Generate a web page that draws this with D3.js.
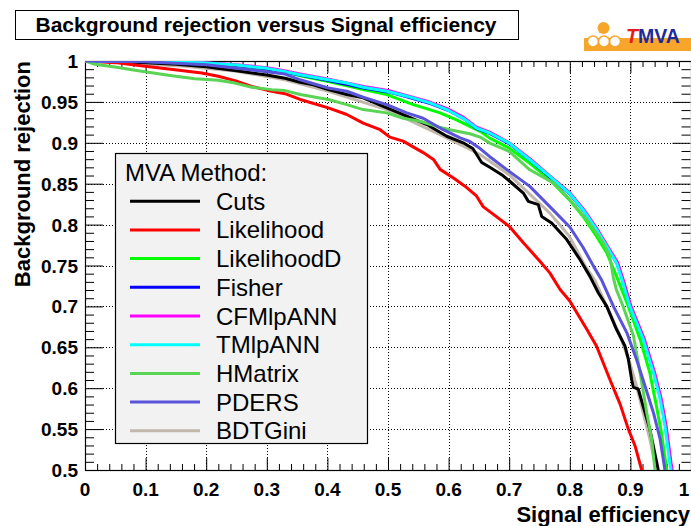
<!DOCTYPE html>
<html><head><meta charset="utf-8">
<script src="https://cdn.jsdelivr.net/npm/d3@7"></script>
<style>
body{margin:0;background:#fff}
svg{display:block}
text{font-family:"Liberation Sans",Arial,Helvetica,sans-serif}
</style>
</head><body>
<svg id="chart" width="691" height="526"></svg>
<script>
// ---- data ----
const methods = ["Cuts","Likelihood","LikelihoodD","Fisher","CFMlpANN","TMlpANN","HMatrix","PDERS","BDTGini"];
const colors  = ["#000000","#ff0000","#00ff00","#0000ff","#ff00ff","#00ffff","#59d454","#5954d9","#c2b7ab"];

const cuts = [[0,1],[0.05,0.9995],[0.1,0.998],[0.15,0.996],[0.2,0.993],[0.25,0.988],[0.3,0.983],[0.33,0.979],[0.355,0.974],[0.377,0.971],[0.4015,0.965],[0.432,0.959],[0.459,0.955],[0.498,0.9427],[0.531,0.9326],[0.564,0.9223],[0.597,0.908],[0.624,0.9],[0.64,0.893],[0.6546,0.876],[0.668,0.87],[0.6876,0.861],[0.701,0.853],[0.7233,0.8386],[0.7316,0.8284],[0.748,0.8244],[0.7536,0.81],[0.77,0.802],[0.795,0.7817],[0.817,0.757],[0.833,0.737],[0.847,0.7167],[0.861,0.70],[0.877,0.672],[0.891,0.6516],[0.8966,0.6354],[0.902,0.611],[0.905,0.601],[0.913,0.599],[0.921,0.578],[0.932,0.55],[0.946,0.5]];
const likelihood = [[0,1],[0.05,0.998],[0.099,0.9935],[0.1485,0.9894],[0.1925,0.9854],[0.22,0.9813],[0.2475,0.976],[0.275,0.969],[0.308,0.963],[0.33,0.96],[0.355,0.953],[0.4015,0.9427],[0.432,0.9346],[0.459,0.924],[0.487,0.916],[0.503,0.907],[0.525,0.902],[0.558,0.888],[0.575,0.8797],[0.586,0.8675],[0.608,0.857],[0.627,0.847],[0.646,0.835],[0.657,0.822],[0.7,0.798],[0.723,0.778],[0.751,0.755],[0.767,0.741],[0.784,0.7207],[0.8,0.7065],[0.828,0.672],[0.844,0.6516],[0.866,0.611],[0.883,0.5805],[0.8966,0.55],[0.9076,0.5297],[0.9186,0.5]];
const likelihoodD = [[0,1],[0.05,0.9998],[0.1,0.9993],[0.15,0.998],[0.2,0.996],[0.25,0.9935],[0.3,0.99],[0.33,0.987],[0.355,0.982],[0.4015,0.975],[0.459,0.965],[0.498,0.959],[0.5418,0.9467],[0.586,0.9366],[0.613,0.928],[0.635,0.92],[0.652,0.914],[0.668,0.9057],[0.7,0.8935],[0.734,0.875],[0.767,0.855],[0.799,0.8305],[0.822,0.81],[0.844,0.7858],[0.861,0.7655],[0.877,0.737],[0.8966,0.70],[0.916,0.66],[0.932,0.619],[0.943,0.578],[0.951,0.546],[0.96,0.5]];
const fisher = [[0,1],[0.05,0.9999],[0.1,0.9995],[0.15,0.9986],[0.2,0.9972],[0.25,0.9946],[0.3,0.9905],[0.355,0.9828],[0.4,0.9765],[0.46,0.967],[0.5,0.9622],[0.53,0.9565],[0.57,0.948],[0.6,0.9395],[0.625,0.9295],[0.646,0.9175],[0.668,0.9115],[0.7,0.899],[0.735,0.8785],[0.767,0.858],[0.8,0.8375],[0.823,0.817],[0.845,0.793],[0.862,0.7725],[0.878,0.7525],[0.887,0.733],[0.9,0.70],[0.922,0.66],[0.939,0.619],[0.95,0.5866],[0.958,0.554],[0.966,0.509],[0.968,0.5]];
const cfmlpANN = [[0,1],[0.05,1],[0.1,0.9997],[0.15,0.999],[0.2,0.998],[0.25,0.9955],[0.3,0.9918],[0.322,0.989],[0.355,0.9842],[0.4,0.978],[0.46,0.969],[0.5,0.964],[0.53,0.958],[0.57,0.9495],[0.6,0.941],[0.625,0.931],[0.646,0.919],[0.668,0.913],[0.7,0.9],[0.735,0.88],[0.767,0.8595],[0.8,0.839],[0.823,0.8185],[0.845,0.7945],[0.862,0.774],[0.879,0.7535],[0.888,0.733],[0.901,0.70],[0.923,0.66],[0.94,0.619],[0.951,0.5866],[0.959,0.554],[0.967,0.509],[0.969,0.5]];
const tmlpANN = [[0,1],[0.05,0.9999],[0.1,0.9996],[0.15,0.9988],[0.2,0.9975],[0.25,0.995],[0.3,0.991],[0.322,0.988],[0.355,0.9833],[0.4015,0.977],[0.432,0.973],[0.459,0.968],[0.498,0.963],[0.531,0.957],[0.569,0.9488],[0.597,0.9406],[0.624,0.93],[0.646,0.918],[0.668,0.912],[0.7,0.8996],[0.734,0.8793],[0.767,0.8589],[0.799,0.8386],[0.822,0.818],[0.844,0.794],[0.861,0.7735],[0.877,0.7533],[0.886,0.733],[0.899,0.70],[0.921,0.66],[0.938,0.619],[0.949,0.5866],[0.957,0.554],[0.965,0.509],[0.967,0.5]];
const hMatrix = [[0,1],[0.0165,0.996],[0.055,0.992],[0.0825,0.9886],[0.102,0.9866],[0.1375,0.9825],[0.1815,0.9784],[0.22,0.9764],[0.2475,0.973],[0.275,0.968],[0.308,0.965],[0.33,0.9638],[0.355,0.959],[0.4015,0.953],[0.432,0.9467],[0.459,0.9406],[0.498,0.9366],[0.525,0.93],[0.553,0.9264],[0.58,0.92],[0.602,0.916],[0.635,0.911],[0.652,0.907],[0.668,0.8996],[0.7,0.8894],[0.734,0.867],[0.773,0.851],[0.8,0.8305],[0.828,0.806],[0.855,0.778],[0.866,0.7614],[0.872,0.735],[0.877,0.72],[0.888,0.70],[0.905,0.664],[0.916,0.619],[0.927,0.57],[0.935,0.538],[0.9406,0.5]];
const pders = [[0,1],[0.05,0.9997],[0.1,0.999],[0.2,0.9955],[0.275,0.989],[0.33,0.984],[0.355,0.977],[0.4015,0.967],[0.432,0.963],[0.459,0.9557],[0.498,0.9467],[0.531,0.9366],[0.558,0.93],[0.591,0.916],[0.619,0.906],[0.635,0.9016],[0.652,0.893],[0.668,0.883],[0.7,0.865],[0.734,0.8467],[0.767,0.822],[0.8,0.797],[0.822,0.772],[0.84,0.748],[0.852,0.733],[0.872,0.70],[0.894,0.668],[0.91,0.6354],[0.924,0.603],[0.938,0.57],[0.949,0.538],[0.957,0.5]];
const bdtGini = [[0,1],[0.05,0.999],[0.1,0.996],[0.165,0.9935],[0.25,0.9874],[0.3,0.981],[0.33,0.977],[0.4015,0.963],[0.498,0.9406],[0.597,0.906],[0.652,0.8857],[0.7,0.861],[0.767,0.814],[0.799,0.786],[0.825,0.75],[0.842,0.731],[0.861,0.70],[0.883,0.664],[0.899,0.631],[0.91,0.603],[0.921,0.57],[0.932,0.538],[0.943,0.5]];
const seriesData = [cuts, likelihood, likelihoodD, fisher, cfmlpANN, tmlpANN, hMatrix, pders, bdtGini];
const drawOrder = [8,0,1,2,3,4,5,6,7];

const xMajor = [0,0.1,0.2,0.3,0.4,0.5,0.6,0.7,0.8,0.9,1];
const xTickLabels = ["0","0.1","0.2","0.3","0.4","0.5","0.6","0.7","0.8","0.9","1"];
const yMajor = [0.5,0.55,0.6,0.65,0.7,0.75,0.8,0.85,0.9,0.95,1];
const yTickLabels = ["0.5","0.55","0.6","0.65","0.7","0.75","0.8","0.85","0.9","0.95","1"];
const titleText = "Background rejection versus Signal efficiency";
const xTitle = "Signal efficiency";
const yTitle = "Background rejection";
const legendHeader = "MVA Method:";

// ---- drawing ----
const svg = d3.select("#chart");
const L = 85, R = 691, T = 61, B = 470;
const x = d3.scaleLinear().domain([0,1]).range([L,R]);
const y = d3.scaleLinear().domain([0.5,1]).range([B,T]);

svg.append("defs").append("clipPath").attr("id","plotclip")
  .append("rect").attr("x",L).attr("y",T).attr("width",R-L).attr("height",B-T);

// grid
const grid = svg.append("g").attr("stroke","#000").attr("stroke-width",1).attr("stroke-dasharray","1,2");
grid.selectAll("line.gx").data(xMajor.slice(1,-1)).join("line")
  .attr("x1",d=>Math.round(x(d))+0.5).attr("x2",d=>Math.round(x(d))+0.5).attr("y1",T).attr("y2",B);
grid.selectAll("line.gy").data(yMajor.slice(1,-1)).join("line")
  .attr("x1",L).attr("x2",R).attr("y1",d=>Math.round(y(d))+0.5).attr("y2",d=>Math.round(y(d))+0.5);

// ticks via d3 axes
const xMinor = d3.range(0,1.0001,0.02).filter(v=>Math.abs(v*10-Math.round(v*10))>1e-6);
const yMinor = d3.range(0.5,1.0001,0.01).filter(v=>Math.abs(v*20-Math.round(v*20))>1e-6);
function styleAxis(g){ g.select(".domain").remove(); g.selectAll("line").attr("stroke","#000").attr("stroke-width",1); g.selectAll("text").remove(); }
svg.append("g").attr("transform",`translate(0,${B})`).call(d3.axisBottom(x).tickValues(xMajor).tickSize(-12).tickFormat("")).call(styleAxis);
svg.append("g").attr("transform",`translate(0,${B})`).call(d3.axisBottom(x).tickValues(xMinor).tickSize(-6).tickFormat("")).call(styleAxis);
svg.append("g").attr("transform",`translate(0,${T})`).call(d3.axisTop(x).tickValues(xMajor).tickSize(-12).tickFormat("")).call(styleAxis);
svg.append("g").attr("transform",`translate(0,${T})`).call(d3.axisTop(x).tickValues(xMinor).tickSize(-6).tickFormat("")).call(styleAxis);
svg.append("g").attr("transform",`translate(${L},0)`).call(d3.axisLeft(y).tickValues(yMajor).tickSize(-18).tickFormat("")).call(styleAxis);
svg.append("g").attr("transform",`translate(${L},0)`).call(d3.axisLeft(y).tickValues(yMinor).tickSize(-9).tickFormat("")).call(styleAxis);
svg.append("g").attr("transform",`translate(${R-0.5},0)`).call(d3.axisRight(y).tickValues(yMajor).tickSize(-18).tickFormat("")).call(styleAxis);
svg.append("g").attr("transform",`translate(${R-0.5},0)`).call(d3.axisRight(y).tickValues(yMinor).tickSize(-9).tickFormat("")).call(styleAxis);

// frame
svg.append("rect").attr("x",L+0.5).attr("y",T+0.5).attr("width",R-L).attr("height",B-T)
  .attr("fill","none").attr("stroke","#000").attr("stroke-width",1.2);

// curves
const line = d3.line().x(d=>x(d[0])).y(d=>y(d[1]));
const curves = svg.append("g").attr("clip-path","url(#plotclip)");
drawOrder.forEach(i=>{
  curves.append("path").datum(seriesData[i]).attr("d",line)
    .attr("fill","none").attr("stroke",colors[i]).attr("stroke-width",3)
    .attr("stroke-linejoin","round").attr("stroke-linecap","butt");
});

// tick labels
svg.append("g").selectAll("text").data(xMajor).join("text")
  .attr("x",d=>Math.min(x(d),684)).attr("y",496).attr("text-anchor","middle")
  .attr("font-size",19).attr("font-weight","bold").text((d,i)=>xTickLabels[i]);
svg.append("g").selectAll("text").data(yMajor).join("text")
  .attr("x",78).attr("y",d=>y(d)+7).attr("text-anchor","end")
  .attr("font-size",19).attr("font-weight","bold").text((d,i)=>yTickLabels[i]);

// axis titles
svg.append("text").attr("x",690).attr("y",522).attr("text-anchor","end")
  .attr("font-size",22).attr("font-weight","bold").text(xTitle);
svg.append("text").attr("transform",`translate(30,${T}) rotate(-90)`).attr("text-anchor","end")
  .attr("font-size",22).attr("font-weight","bold").text(yTitle);

// title box
svg.append("rect").attr("x",15.5).attr("y",10.5).attr("width",503).attr("height",29)
  .attr("fill","#fff").attr("stroke","#000").attr("stroke-width",1);
svg.append("text").attr("x",266).attr("y",32).attr("text-anchor","middle")
  .attr("font-size",21).attr("font-weight","bold").text(titleText);

// legend
const lg = svg.append("g");
lg.append("rect").attr("x",115.5).attr("y",153.5).attr("width",252).attr("height",290)
  .attr("fill","#f2f2f2").attr("stroke","#000").attr("stroke-width",1.2);
const rowY = i => 172.5 + i*28.7;
lg.append("text").attr("x",125).attr("y",rowY(0)+8.5).attr("font-size",24).text(legendHeader);
methods.forEach((m,i)=>{
  lg.append("line").attr("x1",130).attr("x2",200).attr("y1",rowY(i+1)).attr("y2",rowY(i+1))
    .attr("stroke",colors[i]).attr("stroke-width",3);
  lg.append("text").attr("x",216).attr("y",rowY(i+1)+8.5).attr("font-size",24).text(m);
});

// TMVA logo
const logo = svg.append("g");
const orange = "#f7a52b";
logo.append("rect").attr("x",584).attr("y",38).attr("width",107).attr("height",13).attr("fill",orange);
logo.append("circle").attr("cx",603.5).attr("cy",28).attr("r",6).attr("fill",orange);
[593,604,615].forEach(cx=>logo.append("circle").attr("cx",cx).attr("cy",41.5).attr("r",5.5)
  .attr("fill","#fff").attr("stroke",orange).attr("stroke-width",1.5));
const lt = logo.append("text").attr("x",626).attr("y",43).attr("font-size",19.5).attr("font-weight","bold");
lt.append("tspan").attr("fill","#e51b1b").attr("font-style","italic").text("T");
lt.append("tspan").attr("fill","#1c2a9c").text("MVA");
</script>
</body></html>
